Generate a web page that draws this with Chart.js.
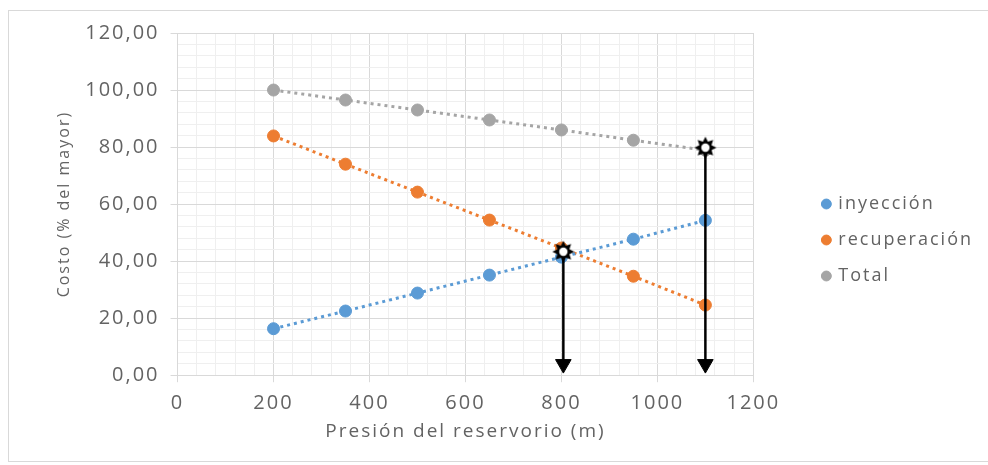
<!DOCTYPE html>
<html>
<head>
<meta charset="utf-8">
<script src="https://cdn.jsdelivr.net/npm/chart.js@4/dist/chart.umd.min.js"></script>
<style>
	html, body { margin: 0; padding: 0; background: #fff; }
	canvas { display: block; }
</style>
</head>
<body>
<canvas id="grafico" width="988" height="465"></canvas>
<script>
// presión del reservorio (m)
const presion = [200, 350, 500, 650, 800, 950, 1100];
// costo (% del mayor)
const inyeccion = [16.3, 22.5, 28.8, 35.1, 41.4, 47.7, 54.3];
const recuperacion = [83.9, 74.0, 64.2, 54.4, 44.6, 34.7, 24.6];
const total = [100.0, 96.5, 93.0, 89.5, 86.0, 82.4, 78.9];

// puntos marcados con estrella y flecha hacia el eje
const marcaX = [804, 1100];
const marcaY = [43.3, 79.8];
const finFlecha = 3.9;

const texto = '#636363';
const gridMayor = '#d9d9d9';
const gridMenor = '#efefef';

function puntos(xs, ys) {
	return xs.map((x, i) => ({ x: x, y: ys[i] }));
}

// estrella de 8 puntas con centro blanco
function crearEstrella() {
	const c = document.createElement('canvas');
	c.width = 24;
	c.height = 24;
	const g = c.getContext('2d');
	g.beginPath();
	for (let i = 0; i < 16; i++) {
		const r = i % 2 === 0 ? 11 : 6.5;
		const a = i * Math.PI / 8 - Math.PI / 2;
		const px = 12 + r * Math.cos(a);
		const py = 12 + r * Math.sin(a);
		if (i === 0) g.moveTo(px, py); else g.lineTo(px, py);
	}
	g.closePath();
	g.fillStyle = '#000';
	g.fill();
	g.beginPath();
	g.arc(12, 12, 4.2, 0, Math.PI * 2);
	g.fillStyle = '#fff';
	g.fill();
	return c;
}
const estrella = crearEstrella();

function serie(label, ys, color) {
	return {
		label: label,
		data: puntos(presion, ys),
		showLine: true,
		borderColor: color,
		backgroundColor: color,
		borderWidth: 3,
		borderDash: [3, 4],
		pointRadius: 6,
		pointHoverRadius: 6,
		pointBorderWidth: 1,
		pointBackgroundColor: color,
		pointBorderColor: color
	};
}

function flecha(i) {
	return {
		label: 'flecha' + i,
		data: [{ x: marcaX[i], y: marcaY[i] }, { x: marcaX[i], y: finFlecha }],
		showLine: true,
		borderColor: '#000',
		borderWidth: 2.5,
		pointStyle: [estrella, 'triangle'],
		rotation: [0, 180],
		pointRadius: [10, 9],
		pointBackgroundColor: '#000',
		pointBorderColor: '#000',
		pointBorderWidth: 1,
		order: -1
	};
}

// espaciado de letras en todo el texto del lienzo
const espaciado = {
	id: 'espaciado',
	beforeUpdate(chart) { chart.ctx.letterSpacing = '2px'; },
	beforeDraw(chart) { chart.ctx.letterSpacing = '2px'; }
};

// fondo blanco y marco exterior
const marco = {
	id: 'marco',
	beforeDraw(chart) {
		const ctx = chart.ctx;
		ctx.save();
		ctx.fillStyle = '#fff';
		ctx.fillRect(0, 0, chart.width, chart.height);
		ctx.strokeStyle = '#d9d9d9';
		ctx.lineWidth = 1;
		ctx.strokeRect(8.5, 10.5, chart.width - 8, chart.height - 14);
		ctx.restore();
	}
};

// separa la leyenda del área del gráfico
const moverLeyenda = {
	id: 'moverLeyenda',
	afterLayout(chart) {
		const lg = chart.legend;
		lg.left += 52; lg.right += 52;
	}
};

Chart.defaults.font.family = "'Open Sans', sans-serif";
Chart.defaults.color = texto;

new Chart(document.getElementById('grafico').getContext('2d'), {
	type: 'scatter',
	data: {
		datasets: [
			serie('inyección', inyeccion, '#5b9bd5'),
			serie('recuperación', recuperacion, '#ed7d31'),
			serie('Total', total, '#a5a5a5'),
			flecha(0),
			flecha(1)
		]
	},
	options: {
		responsive: false,
		animation: false,
		layout: { padding: { left: 55, top: 33, right: 57, bottom: 18 } },
		plugins: {
			legend: {
				position: 'right',
				labels: {
					usePointStyle: true,
					boxWidth: 6,
					boxHeight: 7,
					padding: 18,
					color: texto,
					font: { size: 18 },
					filter: item => item.datasetIndex < 3
				}
			},
			tooltip: { enabled: false }
		},
		scales: {
			x: {
				type: 'linear',
				min: 0,
				max: 1200,
				ticks: {
					stepSize: 40,
					autoSkip: false,
					maxRotation: 0,
					padding: 9,
					color: texto,
					font: { size: 20 },
					callback: v => v % 200 === 0 ? String(v) : ''
				},
				grid: {
					color: c => c.tick && c.tick.value % 200 === 0 ? gridMayor : gridMenor,
					tickColor: c => c.tick && c.tick.value % 200 === 0 ? gridMayor : 'rgba(0,0,0,0)',
					tickLength: 7
				},
				border: { color: gridMayor },
				title: {
					display: true,
					text: 'Presión del reservorio (m)',
					color: texto,
					font: { size: 19 },
					padding: { top: -4, bottom: 4 }
				}
			},
			y: {
				min: 0,
				max: 120,
				ticks: {
					stepSize: 4,
					autoSkip: false,
					padding: 11,
					color: texto,
					font: { size: 20 },
					callback: v => v % 20 === 0 ? v.toFixed(2).replace('.', ',') : ''
				},
				grid: {
					color: c => c.tick && c.tick.value % 20 === 0 ? gridMayor : gridMenor,
					tickColor: c => c.tick && c.tick.value % 20 === 0 ? gridMayor : 'rgba(0,0,0,0)',
					tickLength: 7
				},
				border: { color: gridMayor },
				title: {
					display: true,
					text: 'Costo (% del mayor)',
					color: texto,
					font: { size: 16 },
					padding: { top: 0, bottom: 0 }
				}
			}
		}
	},
	plugins: [espaciado, marco, moverLeyenda]
});
</script>
</body>
</html>
